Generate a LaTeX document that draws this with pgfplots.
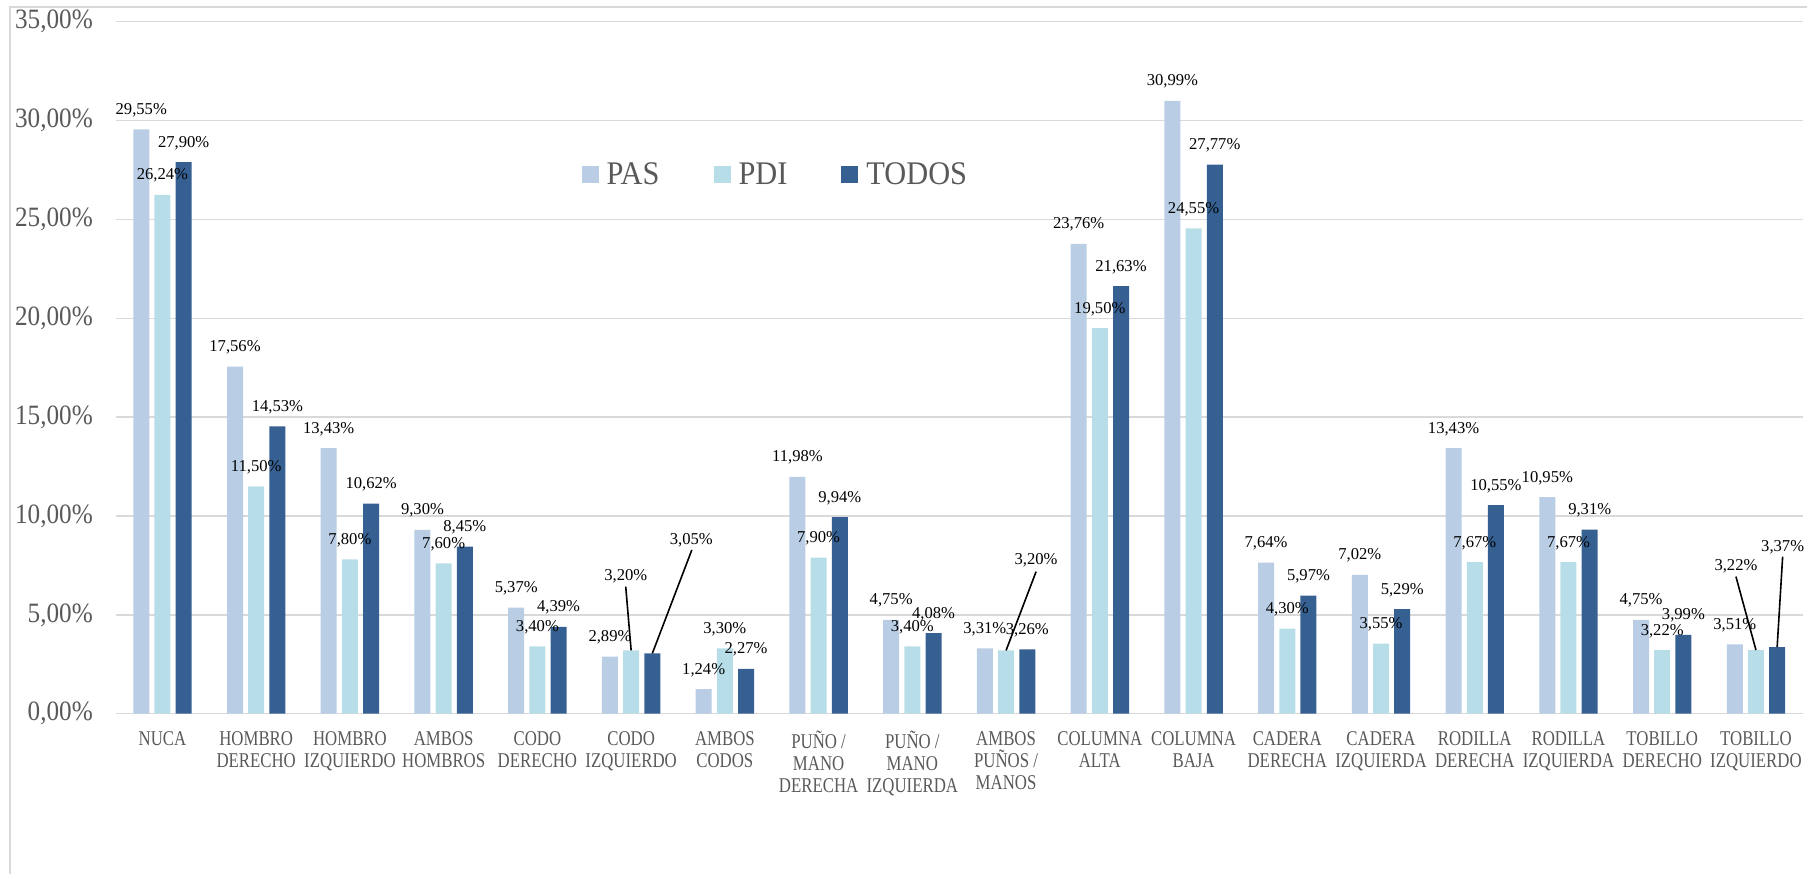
\documentclass[border=0pt]{standalone}
\usepackage{pgfplots}
\usepackage{pgfplotstable}
\pgfplotsset{compat=1.18}
\usepackage{fontspec}
\setmainfont{Liberation Serif}
\newfontfamily\tickfont{Liberation Serif}[FakeStretch=0.9]
\newfontfamily\catfont{Liberation Serif}[FakeStretch=0.8]
\newfontfamily\legfont{Liberation Serif}[FakeStretch=0.92]

\definecolor{pas}{RGB}{185,205,228}
\definecolor{pdi}{RGB}{183,222,232}
\definecolor{todos}{RGB}{54,96,146}
\definecolor{gridgray}{RGB}{217,217,217}
\definecolor{txtgray}{RGB}{89,89,89}

% x = category index, y = percentage, dx/dy = label offset from bar top (pt)
\pgfplotstableread{
x y dx dy
0 29.55 0 7.5
1 17.56 0 7.5
2 13.43 0 7.5
3 9.30 0 7.5
4 5.37 0 7.5
5 2.89 0 7.5
6 1.24 0 7.5
7 11.98 0 7.5
8 4.75 0 7.5
9 3.31 0 7.5
10 23.76 0 7.5
11 30.99 0 7.5
12 7.64 0 7.5
13 7.02 0 7.5
14 13.43 0 7.5
15 10.95 0 7.5
16 4.75 0 7.5
17 3.51 0 7.5
}\pas

\pgfplotstableread{
x y dx dy
0 26.24 0 7.5
1 11.50 0 7.5
2 7.80 0 7.5
3 7.60 0 7.5
4 3.40 0 7.5
5 3.20 -2.7 34.75
6 3.30 0 7.5
7 7.90 0 7.5
8 3.40 0 7.5
9 3.20 15 42.75
10 19.50 0 7.5
11 24.55 0 7.5
12 4.30 0 7.5
13 3.55 0 7.5
14 7.67 0 7.5
15 7.67 0 7.5
16 3.22 0 7.5
17 3.22 -10 40
}\pdi

\pgfplotstableread{
x y dx dy
0 27.90 0 7.5
1 14.53 0 7.5
2 10.62 0 7.5
3 8.45 0 7.5
4 4.39 0 7.5
5 3.05 19.5 54.25
6 2.27 0 7.5
7 9.94 0 7.5
8 4.08 0 7.5
9 3.26 0 7.5
10 21.63 0 7.5
11 27.77 0 7.5
12 5.97 0 7.5
13 5.29 0 7.5
14 10.55 0 7.5
15 9.31 0 7.5
16 3.99 0 7.5
17 3.37 2.75 48
}\todos

\pgfplotsset{
  sqlegend/.style={legend image code/.code={\fill[##1] (0pt,-3.75pt) rectangle (8.5pt,4.75pt);}},
  % value labels; #1 = horizontal offset of the bar within its group
  barlabels/.style={
    ybar, bar width=8pt, bar shift=0pt, draw=none, fill=none, forget plot,
    point meta=y,
    visualization depends on={\thisrow{dx} \as \ldx},
    visualization depends on={\thisrow{dy} \as \ldy},
    nodes near coords={\pgfmathprintnumber[fixed,fixed zerofill,precision=2,use comma,assume math mode=true]{\pgfplotspointmeta}\%},
    every node near coord/.append style={anchor=base, inner sep=0pt,
      xshift=#1+\ldx pt, yshift=\ldy pt, text=black,
      font=\fontsize{8.3}{10}\selectfont},
  },
}

\begin{document}
\begin{tikzpicture}
\begin{axis}[
  at={(57.8pt,80.15pt)}, anchor=south west,
  scale only axis, width=843.6pt, height=346pt,
  xmin=-0.5, xmax=17.5, ymin=0, ymax=35,
  xtick={0,...,17},
  xticklabels={NUCA, {HOMBRO\\DERECHO}, {HOMBRO\\IZQUIERDO}, {AMBOS\\HOMBROS},
    {CODO\\DERECHO}, {CODO\\IZQUIERDO}, {AMBOS\\CODOS}, {PUÑO /\\MANO\\DERECHA},
    {PUÑO /\\MANO\\IZQUIERDA}, {AMBOS\\PUÑOS /\\MANOS}, {COLUMNA\\ALTA},
    {COLUMNA\\BAJA}, {CADERA\\DERECHA}, {CADERA\\IZQUIERDA}, {RODILLA\\DERECHA},
    {RODILLA\\IZQUIERDA}, {TOBILLO\\DERECHO}, {TOBILLO\\IZQUIERDO}},
  xticklabel style={align=center, anchor=north, inner sep=0pt, yshift=-8.65pt,
    text=txtgray, font=\catfont\fontsize{10.5}{11}\selectfont},
  ytick={0,5,...,35},
  yticklabel={\pgfmathprintnumber[fixed,fixed zerofill,precision=2,use comma]{\tick}\%},
  yticklabel style={anchor=east, inner sep=0pt, xshift=-11.2pt,
    text=txtgray, font=\tickfont\fontsize{14}{16}\selectfont,
    /pgf/number format/assume math mode=true},
  axis line style={draw=none},
  major tick length=0pt,
  ymajorgrids,
  grid style={gridgray, line width=0.75pt},
  legend columns=3,
  legend style={at={(0.2762,0.778)}, anchor=west, draw=none, fill=none,
    inner sep=0pt, outer sep=0pt,
    nodes={inner sep=0pt, text=txtgray, font=\legfont\fontsize{16.5}{18}\selectfont},
    /tikz/every odd column/.append style={column sep=4pt},
    /tikz/every even column/.append style={column sep=27pt}},
]
% bars
\addplot[ybar, bar width=8pt, bar shift=-10.6pt, fill=pas, draw=none, sqlegend]
  table[x=x, y=y] {\pas};
\addlegendentry{PAS}
\addplot[ybar, bar width=8pt, bar shift=0pt, fill=pdi, draw=none, sqlegend]
  table[x=x, y=y] {\pdi};
\addlegendentry{PDI}
\addplot[ybar, bar width=8pt, bar shift=10.6pt, fill=todos, draw=none, sqlegend]
  table[x=x, y=y] {\todos};
\addlegendentry{TODOS}
% value labels on top of all bars
\addplot[barlabels=-10.6pt] table[x=x, y=y] {\pas};
\addplot[barlabels=0pt] table[x=x, y=y] {\pdi};
\addplot[barlabels=10.6pt] table[x=x, y=y] {\todos};
% leader lines for the displaced labels
\draw[line width=0.8pt] (axis cs:5,3.20) -- ++(-2.7pt,31.9pt);
\draw[line width=0.8pt] ([xshift=10.6pt]axis cs:5,3.05) -- ++(19.75pt,51.75pt);
\draw[line width=0.8pt] (axis cs:9,3.20) -- ++(15pt,39.4pt);
\draw[line width=0.8pt] (axis cs:17,3.22) -- ++(-10pt,36.7pt);
\draw[line width=0.8pt] ([xshift=10.6pt]axis cs:17,3.37) -- ++(2.75pt,45.25pt);
\end{axis}
\draw[gridgray, line width=1pt] (5pt,0pt) -- (5pt,433.35pt) -- (903.5pt,433.35pt);
\pgfresetboundingbox
\useasboundingbox (0pt,0pt) rectangle (903.5pt,437pt);
\end{tikzpicture}
\end{document}
